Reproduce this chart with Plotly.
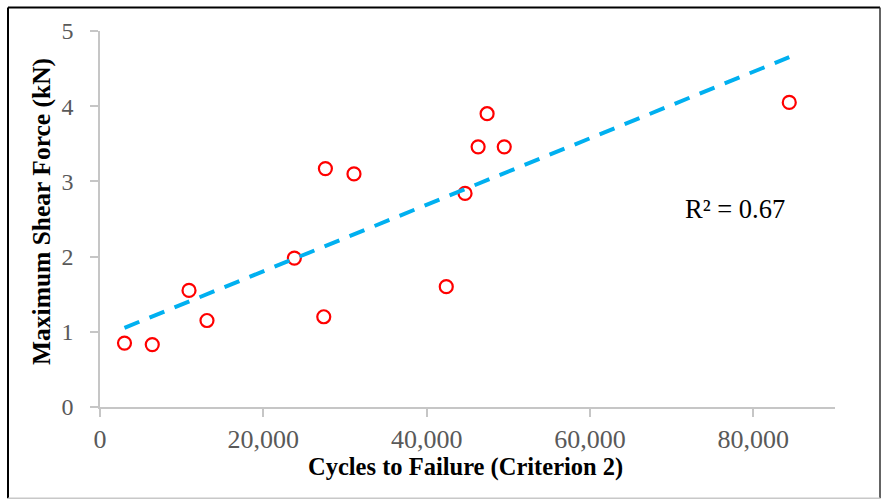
import numpy as np
import plotly.graph_objects as go

# Fatigue test results: cycles to failure vs. peak shear force
cycles = [3000, 6400, 10900, 13100, 23800, 27400, 27600, 31100,
          42400, 44700, 46300, 47400, 49500, 84400]
shear_kn = [0.85, 0.83, 1.55, 1.15, 1.98, 1.20, 3.17, 3.10,
            1.60, 2.84, 3.46, 3.90, 3.46, 4.05]

x_ticks = [0, 20000, 40000, 60000, 80000]
y_ticks = [0, 1, 2, 3, 4, 5]

# Linear least-squares trendline over the data span
x_arr = np.array(cycles, dtype=float)
y_arr = np.array(shear_kn, dtype=float)
slope, intercept = np.polyfit(x_arr, y_arr, 1)
fit_x = np.array([x_arr.min(), x_arr.max()])
fit_y = slope * fit_x + intercept
pred = slope * x_arr + intercept
r2 = 1 - np.sum((y_arr - pred) ** 2) / np.sum((y_arr - y_arr.mean()) ** 2)

SERIF = "Liberation Serif, Times New Roman, serif"
W, H = 882, 501
ML, MR, MT, MB = 100, 47, 30.5, 93.5

fig = go.Figure()
fig.add_trace(go.Scatter(
    x=cycles, y=shear_kn, mode="markers",
    marker=dict(symbol="circle-open", size=13, color="#ff0000",
                line=dict(width=2.2, color="#ff0000")),
    showlegend=False, hoverinfo="x+y",
))
fig.add_trace(go.Scatter(
    x=fit_x, y=fit_y, mode="lines",
    line=dict(color="#00b0f0", width=4, dash="16px,11px"),
    showlegend=False, hoverinfo="skip",
))

axis_common = dict(
    showgrid=False, zeroline=False, showline=True,
    linecolor="#c6c6c6", linewidth=1.5,
    ticks="outside", ticklen=8, tickwidth=1.5, tickcolor="#c6c6c6",
)

fig.update_layout(
    width=W, height=H,
    margin=dict(l=ML, r=MR, t=MT, b=MB),
    paper_bgcolor="white", plot_bgcolor="white",
    xaxis=dict(range=[0, 90000], tickvals=x_ticks, tickformat=",d",
               ticklabelstandoff=0,
               tickfont=dict(family=SERIF, size=26, color="#595959"),
               **axis_common),
    yaxis=dict(range=[0, 5], tickvals=y_ticks, ticklabelstandoff=12,
               tickfont=dict(family=SERIF, size=24, color="#595959"),
               **axis_common),
)

pw, ph = W - ML - MR, H - MT - MB


def px_x(p):
    return (p - ML) / pw


def px_y(p):
    return (H - MB - p) / ph


fig.add_annotation(
    text="<b>Cycles to Failure (Criterion 2)</b>",
    xref="paper", yref="paper", x=px_x(465), y=px_y(468),
    xanchor="center", yanchor="middle", showarrow=False,
    font=dict(family=SERIF, size=24.5, color="black"),
)
fig.add_annotation(
    text="<b>Maximum Shear Force (kN)</b>",
    xref="paper", yref="paper", x=px_x(41), y=px_y(212),
    xanchor="center", yanchor="middle", textangle=-90, showarrow=False,
    font=dict(family=SERIF, size=25.5, color="black"),
)
fig.add_annotation(
    text=f"R² = {r2:.2f}",
    xref="x", yref="y", x=77800, y=2.63,
    xanchor="center", yanchor="middle", showarrow=False,
    font=dict(family=SERIF, size=26.5, color="black"),
)

# Outer frame around the chart
frame = [
    (px_x(8), px_y(7), px_x(8), px_y(499), "black", 2),
    (px_x(8), px_y(7), px_x(880), px_y(7), "black", 2),
    (px_x(880), px_y(7), px_x(880), px_y(499), "#303030", 1.5),
    (px_x(8), px_y(499), px_x(880), px_y(499), "#c8c8c8", 1.5),
]
for x0, y0, x1, y1, col, w in frame:
    fig.add_shape(type="line", xref="paper", yref="paper",
                  x0=x0, y0=y0, x1=x1, y1=y1,
                  line=dict(color=col, width=w))

fig.write_html("out.html")
